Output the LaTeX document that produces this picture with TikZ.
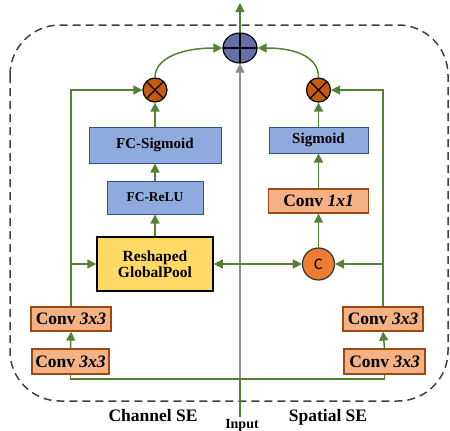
\documentclass[tikz,border=0pt]{standalone}
\usepackage{fontspec}
\setmainfont{Liberation Serif}
\newfontfamily\cfont{Carlito}
\usetikzlibrary{arrows.meta,shapes.geometric}
\definecolor{flow}{RGB}{84,130,53}
\definecolor{fcfill}{RGB}{143,170,220}
\definecolor{fcdraw}{RGB}{47,82,143}
\definecolor{convfill}{RGB}{244,177,131}
\definecolor{convdraw}{RGB}{160,72,20}
\definecolor{poolfill}{RGB}{255,217,102}
\definecolor{sumfill}{RGB}{102,112,168}
\definecolor{mulfill}{RGB}{197,90,17}
\definecolor{catfill}{RGB}{237,125,49}
\definecolor{skip}{RGB}{140,140,140}
\definecolor{frame}{RGB}{64,64,64}
\newcommand{\fsz}[1]{\fontsize{#1}{#1}\selectfont}
\begin{document}
\begin{tikzpicture}[x=1pt,y=-1pt,
  tip/.style={-{Triangle[length=9pt,width=9pt]}},
  flow/.style={draw=flow,line width=1.5pt},
  arr/.style={flow,tip},
  fcbox/.style={draw=fcdraw,fill=fcfill,line width=1pt,inner sep=0pt,
    font=\bfseries\fsz{15}},
  convbox/.style={draw=convdraw,fill=convfill,line width=1.2pt,inner sep=0pt,
    font=\bfseries\fsz{17.5}},
  poolbox/.style={draw=black,fill=poolfill,line width=1.5pt,inner sep=0pt,
    font=\bfseries\fsz{15.5},align=center},
  mul/.style={circle,draw=black,fill=mulfill,line width=1.2pt,minimum size=24pt,
    inner sep=0pt,path picture={
      \draw[black,line width=1.2pt] (path picture bounding box.center) ++(45:12pt) -- ++(225:24pt);
      \draw[black,line width=1.2pt] (path picture bounding box.center) ++(135:12pt) -- ++(315:24pt);}},
  lbl/.style={font=\bfseries\fsz{17.5},anchor=base,inner sep=0pt}
]
\useasboundingbox (0,0) rectangle (450,431);

% outer block
\draw[frame,line width=1.5pt,dash pattern=on 8pt off 5pt,rounded corners=50pt]
  (10,25) rectangle (448,401);

% sum node
\node[ellipse,draw=black,fill=sumfill,line width=1.2pt,minimum width=34pt,
  minimum height=30pt,inner sep=0pt,
  path picture={
    \draw[black,line width=1.2pt] (path picture bounding box.north) -- (path picture bounding box.south);
    \draw[black,line width=1.2pt] (path picture bounding box.west) -- (path picture bounding box.east);}]
  (plus) at (240,48) {};
\coordinate (out) at (240,3);

% channel branch
\node[convbox,minimum width=77pt,minimum height=25pt] (cl1) at (70.5,361.5) {Conv \textit{3x3}};
\node[convbox,minimum width=80pt,minimum height=24pt] (cl2) at (71,319) {Conv \textit{3x3}};
\node[poolbox,minimum width=116pt,minimum height=54pt] (gp) at (155,264) {Reshaped\\GlobalPool};
\node[fcbox,minimum width=96pt,minimum height=33pt,font=\bfseries\fsz{13.5}] (relu) at (155,197.5) {FC-ReLU};
\node[fcbox,minimum width=132pt,minimum height=36pt] (fcs) at (155,145) {FC-Sigmoid};
\node[mul] (lo) at (155,90) {};

% spatial branch
\node[convbox,minimum width=81pt,minimum height=25pt] (cr1) at (384.5,361.5) {Conv \textit{3x3}};
\node[convbox,minimum width=80pt,minimum height=24pt] (cr2) at (383,319) {Conv \textit{3x3}};
\node[circle,draw=black!80,fill=catfill,line width=1.2pt,minimum size=32pt,inner sep=0pt,
  font=\cfont\fsz{16}] (cat) at (318.5,264) {C};
\node[convbox,minimum width=100pt,minimum height=24pt] (c11) at (318.5,201) {Conv \textit{1x1}};
\node[fcbox,minimum width=99pt,minimum height=26pt] (sig) at (318.5,140) {Sigmoid};
\node[mul] (ro) at (318.5,90) {};

% labels
\node[lbl] (lch) at (153,421) {Channel SE};
\node[lbl] (lsp) at (328,421) {Spatial SE};
\node[lbl,font=\bfseries\fsz{14},inner sep=2pt] (inp) at (242,428) {Input};

% input fan-out
\coordinate (jn) at (240,379);
\draw[skip,line width=1.2pt,tip] (jn) -- (plus.south);
\draw[flow] (jn |- inp.north) -- (jn);
\draw[flow] (cl1.south) -- (cl1.south |- jn) -- (cr1.south |- jn) -- (cr1.south);

% channel SE path
\draw[arr] (cl1.north) -- (cl2.south);
\draw[arr] (cl2.north) -- (cl2.north |- lo.west) -- (lo.west);
\draw[arr] (cl2.north |- gp.west) -- (gp.west);
\draw[arr] (gp.north) -- (relu.south);
\draw[arr] (relu.north) -- (fcs.south);
\draw[arr] (fcs.north) -- (lo.south);

% spatial SE path
\draw[arr] (cr1.north) -- (cr2.south);
\draw[arr] (cr2.north) -- (cr2.north |- ro.east) -- (ro.east);
\draw[arr] (cr2.north |- cat.east) -- (cat.east);
\draw[flow,{Triangle[length=9pt,width=9pt]}-{Triangle[length=9pt,width=9pt]}] (gp.east) -- (cat.west);
\draw[arr] (cat.north) -- (c11.south);
\draw[arr] (c11.north) -- (sig.south);
\draw[arr] (sig.north) -- (ro.south);

% fusion
\draw[arr] (lo.north) .. controls (155,58) and (182,48) .. (plus.west);
\draw[arr] (ro.north) .. controls (318.5,58) and (298,48) .. (plus.east);
\draw[arr] (plus.north) -- (out);
\end{tikzpicture}
\end{document}
